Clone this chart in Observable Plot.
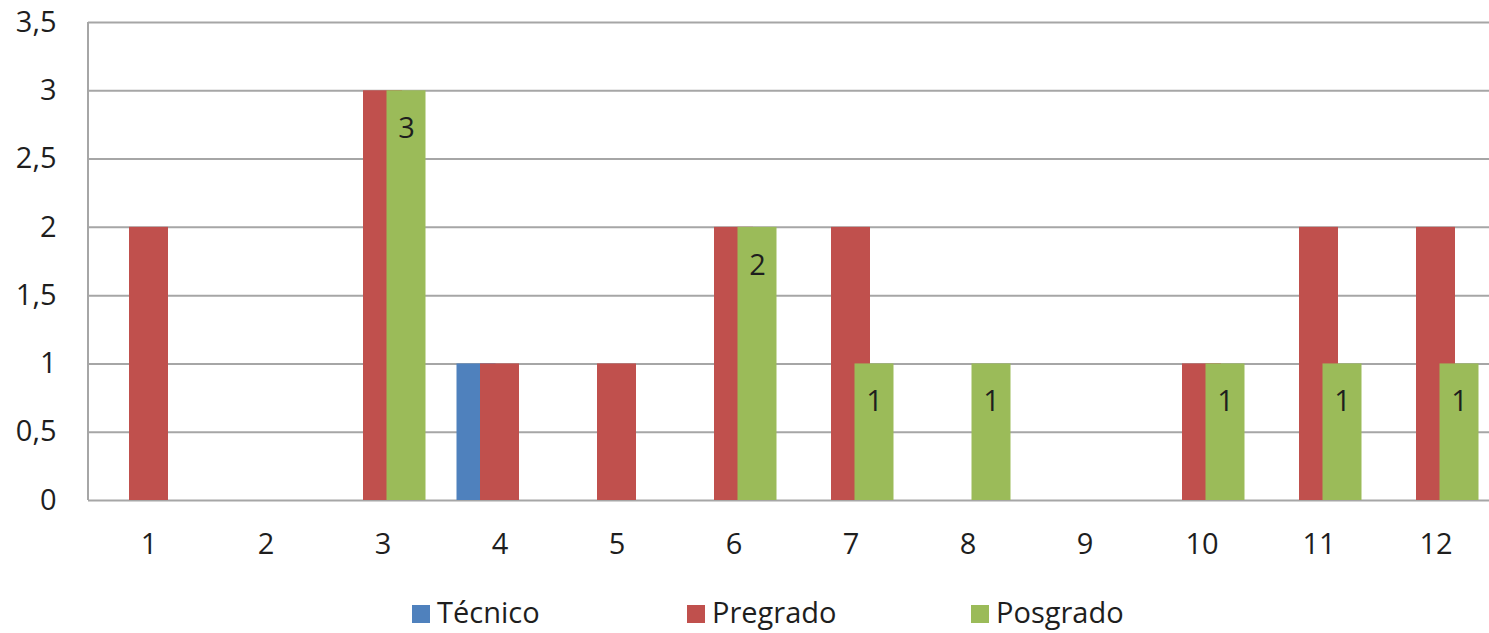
<!DOCTYPE html>
<html>
<head>
<meta charset="utf-8">
<script src="https://cdn.jsdelivr.net/npm/d3@7"></script>
<script src="https://cdn.jsdelivr.net/npm/@observablehq/plot@0.6"></script>
<style>
  html, body { margin: 0; padding: 0; background: #fff; overflow: hidden; width: 1489px; height: 633px; }
  #chart { position: relative; width: 1489px; height: 633px; overflow: hidden; }
  #chart svg { max-width: none !important; }
  #legend { position: absolute; left: 0; top: 580px; width: 1489px; height: 53px; font-family: "Open Sans", sans-serif; font-size: 29px; color: #1e1e1e; }
  .item { position: absolute; top: 12px; display: flex; align-items: center; }
  .sw { width: 18px; height: 18px; margin-right: 7px; margin-top: 4px; }
</style>
</head>
<body>
<div id="chart"></div>
<script>
const categories = ["1","2","3","4","5","6","7","8","9","10","11","12"];
const seriesNames = ["Técnico", "Pregrado", "Posgrado"];
const tecnico  = [0, 0, 0, 1, 0, 0, 0, 0, 0, 0, 0, 0];
const pregrado = [2, 0, 3, 1, 1, 2, 2, 0, 0, 1, 2, 2];
const posgrado = [0, 0, 3, 0, 0, 2, 1, 1, 0, 1, 1, 1];
const colors = ["#4F81BD", "#C0504D", "#9BBB59"];
const yTicks = [0, 0.5, 1, 1.5, 2, 2.5, 3, 3.5];

const seriesValues = [tecnico, pregrado, posgrado];
const offsets = [-23.5, 0, 23.5];
const rows = seriesValues.map(vals => categories.map((c, i) => ({cat: c, value: vals[i]})).filter(d => d.value > 0));

const fmt = d => String(d).replace(".", ",");
const font = "Open Sans, sans-serif";
const textColor = "#1e1e1e";

const leftLine = (index, scales, values, dims) => {
  const l = document.createElementNS("http://www.w3.org/2000/svg", "line");
  l.setAttribute("x1", dims.marginLeft);
  l.setAttribute("x2", dims.marginLeft);
  l.setAttribute("y1", dims.marginTop);
  l.setAttribute("y2", dims.height - dims.marginBottom);
  l.setAttribute("stroke", "#a6a6a6");
  l.setAttribute("stroke-width", 2);
  return l;
};

const plot = Plot.plot({
  width: 1510,
  height: 580,
  marginLeft: 88,
  marginRight: 14,
  marginTop: 22,
  marginBottom: 80,
  style: { fontFamily: font, fontSize: "29px", color: textColor, background: "white", overflow: "visible", maxWidth: "none" },
  x: { domain: categories, paddingInner: 0.6676, paddingOuter: 0.3338, label: null },
  y: { domain: [0, 3.5], label: null },
  marks: [
    Plot.ruleY(yTicks, { stroke: "#a6a6a6", strokeWidth: 2 }),
    leftLine,
    ...rows.map((data, s) => Plot.barY(data, { x: "cat", y: "value", fill: colors[s], dx: offsets[s] })),
    Plot.text(rows[2], { x: "cat", y: "value", text: d => fmt(d.value), dx: offsets[2], dy: 38, fontSize: 29, fill: textColor }),
    Plot.axisY({ ticks: yTicks, tickFormat: fmt, tickSize: 0, tickPadding: 32, fontSize: 29, fill: textColor }),
    Plot.axisX({ tickSize: 0, tickPadding: 33, fontSize: 29, fill: textColor })
  ]
});

const chart = document.getElementById("chart");
chart.appendChild(plot);

const legend = document.createElement("div");
legend.id = "legend";
const lefts = [412, 687, 971];
seriesNames.forEach((name, i) => {
  const it = document.createElement("div");
  it.className = "item";
  it.style.left = lefts[i] + "px";
  const sw = document.createElement("span");
  sw.className = "sw";
  sw.style.background = colors[i];
  const t = document.createElement("span");
  t.textContent = name;
  it.appendChild(sw);
  it.appendChild(t);
  legend.appendChild(it);
});
chart.appendChild(legend);
</script>
</body>
</html>
